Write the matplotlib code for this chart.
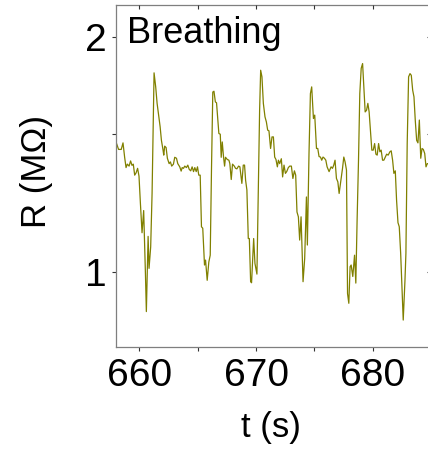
import matplotlib
matplotlib.use("Agg")
import matplotlib.pyplot as plt
from matplotlib.ticker import NullLocator, FixedLocator, FixedFormatter

plt.rcParams['font.family'] = ['Liberation Sans', 'DejaVu Sans']

# time (s)
t = [658.00, 658.22, 658.45, 658.60, 658.74, 658.86, 658.97, 659.12, 659.25, 659.37,
     659.48, 659.60, 659.72, 659.85, 659.97, 660.09, 660.23, 660.37, 660.52, 660.60,
     660.75, 660.83, 660.97, 661.09, 661.20, 661.26, 661.40, 661.52, 661.63, 661.78,
     661.89, 662.03, 662.09, 662.17, 662.29, 662.40, 662.55, 662.66, 662.77, 662.92,
     663.03, 663.18, 663.29, 663.46, 663.58, 663.67, 663.78, 663.89, 664.03, 664.15,
     664.27, 664.40, 664.52, 664.64, 664.75, 664.87, 664.98, 665.09, 665.21, 665.32,
     665.43, 665.58, 665.67, 665.81, 665.95, 666.07, 666.18, 666.29, 666.39, 666.51,
     666.61, 666.72, 666.81, 666.93, 667.01, 667.10, 667.21, 667.30, 667.38, 667.53,
     667.67, 667.75, 667.87, 667.98, 668.13, 668.24, 668.35, 668.50, 668.61, 668.78,
     668.90, 669.01, 669.10, 669.21, 669.33, 669.42, 669.53, 669.61, 669.79, 669.90,
     670.07, 670.19, 670.30, 670.39, 670.50, 670.62, 670.76, 670.88, 670.99, 671.10,
     671.24, 671.36, 671.48, 671.59, 671.70, 671.82, 671.91, 672.02, 672.16, 672.27,
     672.39, 672.51, 672.62, 672.76, 672.88, 673.02, 673.15, 673.28, 673.39, 673.50,
     673.62, 673.73, 673.85, 674.02, 674.16, 674.31, 674.39, 674.53, 674.65, 674.76,
     674.91, 675.02, 675.17, 675.28, 675.39, 675.51, 675.62, 675.73, 675.85, 675.97,
     676.08, 676.25, 676.42, 676.54, 676.65, 676.76, 676.88, 677.00, 677.11, 677.23,
     677.40, 677.51, 677.62, 677.74, 677.83, 677.94, 678.05, 678.14, 678.28, 678.43,
     678.54, 678.65, 678.77, 678.88, 679.00, 679.12, 679.23, 679.34, 679.46, 679.57,
     679.68, 679.80, 679.91, 680.03, 680.15, 680.26, 680.37, 680.49, 680.60, 680.71,
     680.83, 680.94, 681.06, 681.18, 681.31, 681.46, 681.57, 681.69, 681.80, 681.92,
     682.03, 682.15, 682.26, 682.38, 682.49, 682.60, 682.75, 682.83, 682.94, 683.06,
     683.18, 683.29, 683.41, 683.52, 683.63, 683.75, 683.86, 683.98, 684.10, 684.21,
     684.32, 684.44, 684.55, 684.66, 684.75]

# resistance (MOhm)
R = [1.467, 1.435, 1.435, 1.463, 1.402, 1.360, 1.374, 1.366, 1.387, 1.369,
     1.374, 1.330, 1.339, 1.357, 1.326, 1.224, 1.122, 1.198, 0.995, 0.889,
     1.110, 1.010, 1.076, 1.260, 1.595, 1.799, 1.726, 1.644, 1.595, 1.534,
     1.474, 1.432, 1.411, 1.449, 1.443, 1.398, 1.376, 1.383, 1.366, 1.374,
     1.402, 1.398, 1.376, 1.363, 1.346, 1.360, 1.357, 1.366, 1.360, 1.370,
     1.353, 1.347, 1.363, 1.344, 1.360, 1.344, 1.363, 1.330, 1.330, 1.142,
     1.137, 1.020, 1.035, 0.975, 1.029, 1.050, 1.357, 1.700, 1.704, 1.651,
     1.647, 1.565, 1.504, 1.501, 1.402, 1.467, 1.403, 1.366, 1.402, 1.393,
     1.390, 1.376, 1.313, 1.374, 1.366, 1.357, 1.355, 1.366, 1.363, 1.298,
     1.370, 1.370, 1.310, 1.273, 1.103, 1.103, 0.971, 0.968, 1.103, 1.025,
     0.993, 1.273, 1.611, 1.813, 1.778, 1.644, 1.580, 1.556, 1.519, 1.516,
     1.439, 1.489, 1.489, 1.403, 1.393, 1.363, 1.390, 1.376, 1.396, 1.323,
     1.370, 1.337, 1.344, 1.360, 1.366, 1.366, 1.317, 1.347, 1.330, 1.193,
     1.176, 1.098, 1.176, 0.971, 1.040, 1.247, 1.082, 1.418, 1.692, 1.726,
     1.572, 1.588, 1.439, 1.439, 1.405, 1.403, 1.390, 1.403, 1.398, 1.390,
     1.363, 1.344, 1.363, 1.357, 1.370, 1.390, 1.317, 1.304, 1.260, 1.298,
     1.357, 1.403, 1.383, 1.350, 0.938, 0.911, 1.015, 1.020, 0.986, 1.050,
     0.967, 1.165, 1.390, 1.692, 1.823, 1.849, 1.726, 1.603, 1.611, 1.644,
     1.603, 1.512, 1.432, 1.432, 1.460, 1.415, 1.411, 1.460, 1.425, 1.432,
     1.390, 1.390, 1.403, 1.415, 1.411, 1.425, 1.429, 1.390, 1.337, 1.347,
     1.235, 1.156, 1.142, 1.056, 0.957, 0.867, 0.976, 1.056, 1.460, 1.778,
     1.795, 1.786, 1.709, 1.676, 1.565, 1.474, 1.463, 1.565, 1.398, 1.439,
     1.435, 1.418, 1.363, 1.376, 1.376]

x_ticks = [660, 665, 670, 675, 680, 685]
x_ticklabels = ['660', '', '670', '', '680', '']
y_ticks = [1, 1.5, 2]
y_ticklabels = ['1', '', '2']

W, H = 428, 451
fig = plt.figure(figsize=(W / 100, H / 100), dpi=100)
ax_left, ax_right = 116 / W, 431.25 / W
ax_bot, ax_top = (H - 347.3) / H, (H - 4.7) / H
ax = fig.add_axes([ax_left, ax_bot, ax_right - ax_left, ax_top - ax_bot])

ax.plot(t, R, color='#808000', lw=0.9)

ax.set_yscale('log')
ax.set_xlim(658, 685)
ax.set_ylim(0.8, 2.2)

spine_col = '#7f7f7f'
for s in ax.spines.values():
    s.set_color(spine_col)
    s.set_linewidth(0.9)

ax.xaxis.set_major_locator(FixedLocator(x_ticks))
ax.xaxis.set_major_formatter(FixedFormatter(x_ticklabels))
ax.xaxis.set_minor_locator(NullLocator())
ax.yaxis.set_major_locator(FixedLocator(y_ticks))
ax.yaxis.set_major_formatter(FixedFormatter(y_ticklabels))
ax.yaxis.set_minor_locator(NullLocator())
ax.tick_params(axis='both', which='major', direction='out', length=3,
               width=0.8, color='#333333', labelsize=28, pad=4)
ax.tick_params(axis='x', pad=5)

# mirrored inward ticks on top and right
axt = ax.twiny()
axt.set_xlim(ax.get_xlim())
axt.xaxis.set_major_locator(FixedLocator(x_ticks))
axt.xaxis.set_minor_locator(NullLocator())
axt.tick_params(axis='x', direction='in', length=3, width=0.8, color='#333333',
                labeltop=False)
axr = ax.twinx()
axr.set_yscale('log')
axr.set_ylim(ax.get_ylim())
axr.yaxis.set_major_locator(FixedLocator(y_ticks))
axr.yaxis.set_minor_locator(NullLocator())
axr.tick_params(axis='y', direction='in', length=3, width=0.8, color='#333333',
                labelright=False)
for a in (axt, axr):
    for s in a.spines.values():
        s.set_visible(False)

ax.set_xlabel('t (s)', fontsize=25)
ax.xaxis.set_label_coords((271 - 116) / 315.25, (347.3 - 411) / 342.6)
ax.set_ylabel('R (MΩ)', fontsize=25)
ax.yaxis.set_label_coords((53 - 116) / 315.25, (347.3 - 172) / 342.6)

ax.text((127 - 116) / 315.25, (347.3 - 43) / 342.6, 'Breathing',
        transform=ax.transAxes, fontsize=26, va='baseline', ha='left')

fig.savefig('out.png', dpi=100)
